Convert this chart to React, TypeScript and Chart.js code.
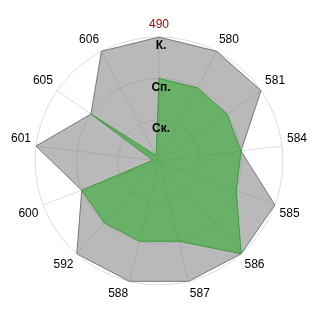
import React, { useEffect, useRef } from "react";
import { Chart, registerables } from "chart.js";

Chart.register(...registerables);

const categories = ["490", "580", "581", "584", "585", "586", "587", "588", "592", "600", "601", "605", "606"];
const greenValues = [2, 2, 2, 2, 2, 3, 2, 2, 2, 2, 0.15, 2, 0.15];
const grayValues = [3, 3, 3, 2, 3, 3, 3, 3, 3, 2, 3, 2, 3];
const tickValues = [1, 2, 3];
const tickLabels = ["Ск.", "Сп.", "К."];

const tickPlugin = {
  id: "tickLabels",
  afterDatasetsDraw(chart: any) {
    const scale = chart.scales.r;
    const ctx = chart.ctx;
    ctx.save();
    ctx.font = "bold 12px 'Liberation Sans', Arial, sans-serif";
    ctx.fillStyle = "#000";
    ctx.textAlign = "center";
    ctx.textBaseline = "middle";
    tickValues.forEach((v, i) => {
      const d = scale.getDistanceFromCenterForValue(v);
      ctx.fillText(tickLabels[i], scale.xCenter + 2, scale.yCenter - d + 9);
    });
    ctx.restore();
  },
};

export default function App() {
  const ref = useRef<HTMLCanvasElement>(null);
  useEffect(() => {
    if (!ref.current) return;
    const chart = new Chart(ref.current, {
      type: "radar",
      data: {
        labels: categories,
        datasets: [
          {
            data: greenValues,
            backgroundColor: "rgba(0,168,0,0.43)",
            borderColor: "#3c9c3c",
            borderWidth: 1,
            pointRadius: 0,
            fill: true,
          },
          {
            data: grayValues,
            backgroundColor: "rgba(128,128,128,0.55)",
            borderColor: "#777777",
            borderWidth: 1,
            pointRadius: 0,
            fill: true,
          },
        ],
      },
      options: {
        animation: false,
        responsive: true,
        maintainAspectRatio: false,
        layout: { padding: 4 },
        plugins: { legend: { display: false }, tooltip: { enabled: false } },
        scales: {
          r: {
            min: 0,
            max: 3,
            ticks: { stepSize: 1, display: false },
            grid: { color: "#dddddd", circular: true },
            angleLines: { color: "#dddddd" },
            pointLabels: {
              font: { family: "'Liberation Sans', Arial, sans-serif", size: 12 },
              color: (c: any) => (c.index === 0 ? "#990000" : "#000000"),
              padding: 5,
            },
          },
        },
      },
      plugins: [tickPlugin],
    });
    return () => chart.destroy();
  }, []);
  return (
    <div style={{ width: 304, height: 304 }}>
      <canvas ref={ref} />
    </div>
  );
}
